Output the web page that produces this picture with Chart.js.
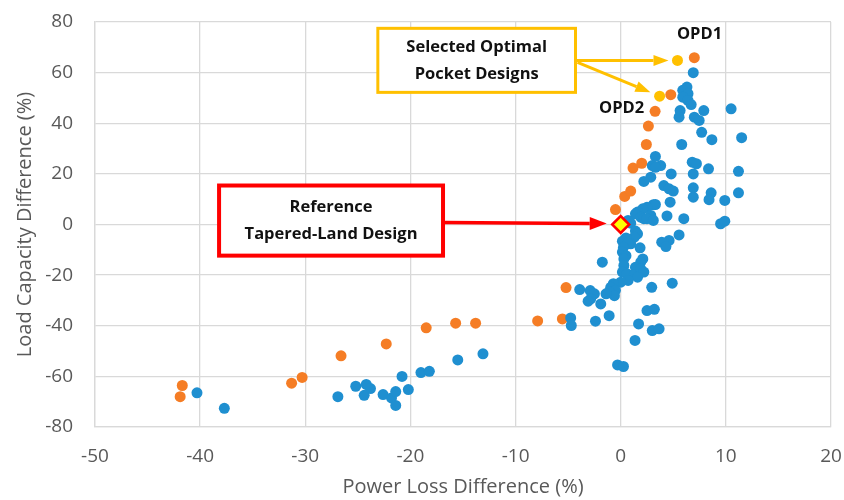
<!DOCTYPE html>
<html>
<head>
<meta charset="utf-8">
<script src="https://cdn.jsdelivr.net/npm/chart.js@4.4.0/dist/chart.umd.min.js"></script>
<style>
  html, body { margin: 0; padding: 0; background: #fff; }
</style>
</head>
<body>
<canvas id="myChart" width="844" height="500"></canvas>
<script>
// [power loss difference %, load capacity difference %]
const bluePoints = [
  [6.9, 60], [6.3, 54.3], [5.9, 53], [6.4, 51.7], [5.9, 50.3], [6.4, 49], [6.7, 47.4],
  [5.65, 45], [5.55, 42.4], [7.9, 45], [10.5, 45.7], [7.0, 42.4], [7.46, 41.1], [7.7, 36.4],
  [8.67, 33.5], [11.5, 34.3], [5.8, 31.6], [3.3, 26.9], [6.8, 24.6], [7.2, 24], [3.0, 23.3],
  [3.8, 23.3], [3.3, 22.6], [8.35, 22], [11.2, 21], [4.8, 20], [6.9, 20], [2.86, 18.7],
  [2.2, 17], [4.1, 15.4], [4.6, 14.1], [5.0, 13.2], [6.9, 14.5], [6.9, 10.8], [8.6, 12.5],
  [8.4, 9.8], [11.2, 12.5], [9.9, 9.5], [4.7, 8.8], [3.1, 7.8], [3.3, 7.9], [2.5, 6.8],
  [2.1, 6.2], [1.6, 4.9], [1.4, 4.2], [2.86, 3.6], [1.9, 2.9], [2.2, 2.3], [2.5, 2.3],
  [3.1, 1.6], [4.4, 3.4], [6.0, 2.3], [0.95, 0.5], [0.7, 1.6], [9.5, 0.3], [9.9, 1.3],
  [1.4, -2.6], [1.6, -3.7], [1.3, -5], [0.5, -5.3], [0.16, -6.6], [0.95, -7.6], [0.7, -7.4],
  [0.26, -9], [1.84, -9.2], [5.55, -4.1], [4.6, -6.3], [3.9, -7], [4.3, -8.7], [0.16, -10.9],
  [0.5, -12.3], [0.3, -13.6], [2.1, -13.6], [1.9, -14.9], [-1.75, -14.9], [0.3, -16.2],
  [1.4, -16.9], [0.16, -18.8], [0.6, -19.5], [1.3, -19.8], [1.9, -17.5], [2.2, -18.8],
  [1.6, -20.8], [0.7, -22.1], [0, -22.8], [-0.7, -23.4], [-0.95, -24.8], [-0.5, -26],
  [-1.1, -26.7], [-0.6, -28.1], [-1.4, -27.4], [2.95, -24.8], [4.9, -23.2], [-3.9, -25.7],
  [-2.9, -26.1], [-2.5, -27.4], [-2.86, -29.4], [-3.1, -30.3], [-1.9, -31.4], [-1.1, -36],
  [-2.4, -38.2], [-4.76, -36.9], [-4.7, -39.9], [2.5, -34], [3.2, -33.5], [1.7, -39.3],
  [3.0, -41.9], [3.65, -41.2], [1.36, -45.8], [-0.3, -55.5], [0.26, -56.1],
  [-40.3, -66.5], [-37.7, -72.6], [-26.9, -68], [-25.2, -63.9], [-24.2, -63.2], [-23.8, -64.8],
  [-24.4, -67.5], [-22.6, -67.2], [-21.8, -68.5], [-21.4, -66], [-21.4, -71.5], [-20.2, -65.2],
  [-20.8, -60], [-19, -58.5], [-18.2, -58], [-15.5, -53.5], [-13.1, -51.1]
];

const orangePoints = [
  [-41.7, -63.6], [-41.9, -68], [-31.3, -62.7], [-30.3, -60.4], [-26.6, -51.9], [-22.3, -47.2],
  [-18.5, -40.8], [-15.7, -39], [-13.8, -39], [-7.9, -38.1], [-5.55, -37.3], [-5.2, -24.9],
  [-0.5, 5.9], [0.38, 11.1], [0.95, 13.2], [1.17, 22.3], [2.0, 24.2], [2.44, 31.6],
  [2.63, 38.9], [3.27, 44.7], [4.76, 51.3], [7.0, 65.9]
];

const optimalPoints = [[5.4, 64.8], [3.7, 50.7]];   // OPD1, OPD2
const optimalLabels = ['OPD1', 'OPD2'];
const referencePoint = [[0, 0]];

const xTitle = 'Power Loss Difference (%)';
const yTitle = 'Load Capacity Difference (%)';

const toXY = arr => arr.map(p => ({ x: p[0], y: p[1] }));
const tickFont = { family: "'Open Sans', sans-serif", size: 19 };
const titleFont = { family: "'Open Sans', sans-serif", size: 20 };
const boldFont = "bold 16.5px 'Open Sans', sans-serif";

function arrow(ctx, x1, y1, x2, y2, color, width, headLen, headW) {
  const a = Math.atan2(y2 - y1, x2 - x1);
  const bx = x2 - headLen * Math.cos(a), by = y2 - headLen * Math.sin(a);
  ctx.strokeStyle = color;
  ctx.lineWidth = width;
  ctx.beginPath(); ctx.moveTo(x1, y1); ctx.lineTo(bx, by); ctx.stroke();
  ctx.fillStyle = color;
  ctx.beginPath();
  ctx.moveTo(x2, y2);
  ctx.lineTo(bx + headW / 2 * Math.sin(a), by - headW / 2 * Math.cos(a));
  ctx.lineTo(bx - headW / 2 * Math.sin(a), by + headW / 2 * Math.cos(a));
  ctx.closePath();
  ctx.fill();
}

function box(ctx, l, t, r, b, color, width, lines) {
  ctx.fillStyle = '#fff';
  ctx.fillRect(l, t, r - l, b - t);
  ctx.strokeStyle = color;
  ctx.lineWidth = width;
  ctx.strokeRect(l, t, r - l, b - t);
  ctx.fillStyle = '#111';
  ctx.font = boldFont;
  ctx.textAlign = 'center';
  ctx.textBaseline = 'middle';
  const cx = (l + r) / 2, cy = (t + b) / 2;
  ctx.fillText(lines[0], cx, cy - 13);
  ctx.fillText(lines[1], cx, cy + 14);
}

const callouts = {
  id: 'callouts',
  afterDraw(chart) {
    const { ctx, scales: { x, y } } = chart;
    ctx.save();

    // yellow callout: selected optimal designs
    const yl = x.getPixelForValue(-23.1), yr = x.getPixelForValue(-4.3);
    const yt = y.getPixelForValue(77.5), yb = y.getPixelForValue(52.2);
    const p1 = { x: x.getPixelForValue(optimalPoints[0][0]), y: y.getPixelForValue(optimalPoints[0][1]) };
    const p2 = { x: x.getPixelForValue(optimalPoints[1][0]), y: y.getPixelForValue(optimalPoints[1][1]) };
    const s1 = { x: yr, y: p1.y }, s2 = { x: yr + 2, y: p1.y + 2 };
    arrow(ctx, s1.x, s1.y, p1.x - 9, p1.y, '#FFC000', 3, 15, 11);
    const d = Math.hypot(p2.x - s2.x, p2.y - s2.y);
    arrow(ctx, s2.x, s2.y, p2.x - 10 * (p2.x - s2.x) / d, p2.y - 10 * (p2.y - s2.y) / d, '#FFC000', 3, 15, 11);
    box(ctx, yl, yt, yr, yb, '#FFC000', 3, ['Selected Optimal', 'Pocket Designs']);

    // OPD labels
    ctx.fillStyle = '#111';
    ctx.font = boldFont;
    ctx.textAlign = 'center';
    ctx.textBaseline = 'middle';
    ctx.fillText(optimalLabels[0], p1.x + 22, p1.y - 26);
    ctx.fillText(optimalLabels[1], p2.x - 38, p2.y + 12);

    // red callout: reference design
    const rl = x.getPixelForValue(-38.2), rr = x.getPixelForValue(-16.9);
    const rt = y.getPixelForValue(15.4), rb = y.getPixelForValue(-12.3);
    const ref = { x: x.getPixelForValue(referencePoint[0][0]), y: y.getPixelForValue(referencePoint[0][1]) };
    arrow(ctx, rr, ref.y - 2, ref.x - 14, ref.y - 1, '#FF0000', 3.5, 17, 13);
    box(ctx, rl, rt, rr, rb, '#FF0000', 4, ['Reference', 'Tapered-Land Design']);

    ctx.restore();
  }
};

const ctx = document.getElementById('myChart');
const myChart = new Chart(ctx, {
  type: 'scatter',
  data: {
    datasets: [
      {
        label: 'Reference',
        data: toXY(referencePoint),
        pointStyle: 'rectRot',
        pointRadius: 8.5,
        backgroundColor: '#FFFF00',
        borderColor: '#FF0000',
        borderWidth: 2.5,
        order: 0
      },
      {
        label: 'Optimal',
        data: toXY(optimalPoints),
        pointRadius: 5.5,
        backgroundColor: '#FFC000',
        borderWidth: 0,
        order: 1
      },
      {
        label: 'Blue',
        data: toXY(bluePoints),
        pointRadius: 5.5,
        backgroundColor: '#1F8FD0',
        borderWidth: 0,
        order: 2
      },
      {
        label: 'Orange',
        data: toXY(orangePoints),
        pointRadius: 5.5,
        backgroundColor: '#F57D25',
        borderWidth: 0,
        order: 3
      }
    ]
  },
  options: {
    responsive: false,
    animation: false,
    layout: { padding: { top: 22, right: 13, bottom: 0, left: 0 } },
    plugins: { legend: { display: false }, tooltip: { enabled: false } },
    scales: {
      x: {
        type: 'linear',
        min: -50,
        max: 20,
        ticks: { stepSize: 10, font: tickFont, color: '#595959', padding: 0 },
        grid: { color: '#d9d9d9', drawTicks: true, tickLength: 18, tickColor: 'rgba(0,0,0,0)', lineWidth: 1.3 },
        border: { color: '#d9d9d9', width: 1.3 },
        title: { display: true, text: xTitle, font: titleFont, color: '#595959', padding: { top: 0, bottom: 1 } },
        afterFit: s => { s.height = 73; }
      },
      y: {
        type: 'linear',
        min: -80,
        max: 80,
        ticks: { stepSize: 20, font: tickFont, color: '#595959', padding: 0 },
        grid: { color: '#d9d9d9', drawTicks: true, tickLength: 22, tickColor: 'rgba(0,0,0,0)', lineWidth: 1.3 },
        border: { color: '#d9d9d9', width: 1.3 },
        title: { display: true, text: yTitle, font: titleFont, color: '#595959', padding: { top: 13, bottom: 0 } },
        afterFit: s => { s.width = 95; }
      }
    }
  },
  plugins: [callouts]
});
</script>
</body>
</html>
